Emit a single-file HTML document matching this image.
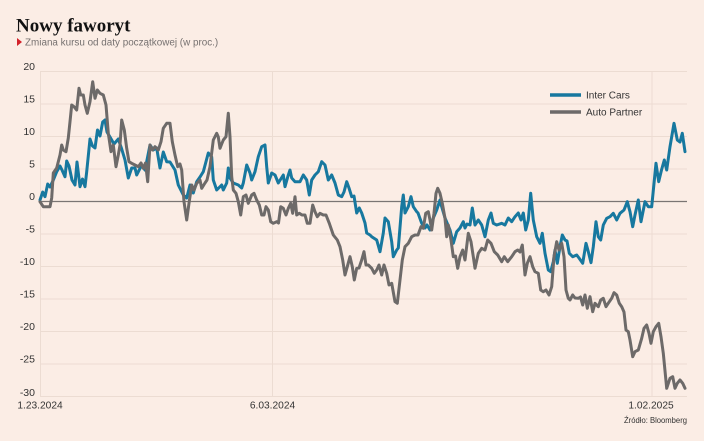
<!DOCTYPE html>
<html><head><meta charset="utf-8"><style>
html,body{margin:0;padding:0;background:#fbede5;}
svg{display:block;}
</style></head><body>
<svg width="704" height="441" viewBox="0 0 704 441" xmlns="http://www.w3.org/2000/svg">
<rect x="0" y="0" width="704" height="441" fill="#fbede5"/>
<text x="16" y="31.5" font-family="Liberation Serif, serif" font-weight="bold" font-size="19" fill="#111">Nowy faworyt</text>
<polygon points="17,38 17,46 22,42" fill="#d3222a"/>
<text x="25" y="45.5" font-family="Liberation Sans, sans-serif" font-size="9.9" fill="#767170">Zmiana kursu od daty początkowej (w proc.)</text>
<g stroke="#ecdcd2" stroke-width="1">
<line x1="40" y1="71.5" x2="687" y2="71.5"/>
<line x1="40" y1="104" x2="687" y2="104"/>
<line x1="40" y1="136.5" x2="687" y2="136.5"/>
<line x1="40" y1="169" x2="687" y2="169"/>
<line x1="40" y1="234" x2="687" y2="234"/>
<line x1="40" y1="266.5" x2="687" y2="266.5"/>
<line x1="40" y1="299" x2="687" y2="299"/>
<line x1="40" y1="331.5" x2="687" y2="331.5"/>
<line x1="40" y1="364" x2="687" y2="364"/>
<line x1="40" y1="396.5" x2="687" y2="396.5"/>
<line x1="40.5" y1="71.5" x2="40.5" y2="397"/>
<line x1="272.5" y1="71.5" x2="272.5" y2="397"/>
<line x1="652" y1="71.5" x2="652" y2="397"/>
</g>
<line x1="40" y1="201.5" x2="687" y2="201.5" stroke="#7a7573" stroke-width="1.2"/>
<g font-family="Liberation Sans, sans-serif" font-size="10.5" fill="#333" text-anchor="end">
<text x="35" y="70">20</text>
<text x="35" y="102.5">15</text>
<text x="35" y="135">10</text>
<text x="35" y="167.5">5</text>
<text x="35" y="200">0</text>
<text x="35" y="232.5">-5</text>
<text x="35" y="265">-10</text>
<text x="35" y="297.5">-15</text>
<text x="35" y="330">-20</text>
<text x="35" y="362.5">-25</text>
<text x="35" y="396">-30</text>
</g>
<g font-family="Liberation Sans, sans-serif" font-size="10.2" fill="#333" text-anchor="middle">
<text x="40" y="408.5">1.23.2024</text>
<text x="272.5" y="408.5">6.03.2024</text>
<text x="651" y="408.5">1.02.2025</text>
</g>
<text x="687" y="423" font-family="Liberation Sans, sans-serif" font-size="7.8" fill="#333" text-anchor="end" textLength="63" lengthAdjust="spacingAndGlyphs">Źródło: Bloomberg</text>
<line x1="550" y1="95" x2="581" y2="95" stroke="#17789f" stroke-width="3.5"/>
<line x1="550" y1="112" x2="581" y2="112" stroke="#6d6a69" stroke-width="3.5"/>
<g font-family="Liberation Sans, sans-serif" font-size="10" fill="#333">
<text x="586" y="98.6">Inter Cars</text>
<text x="586" y="115.6">Auto Partner</text>
</g>
<polyline fill="none" stroke="#17789f" stroke-width="3" stroke-linejoin="round" stroke-linecap="round" points="40,200 42.7,192 45,196.7 47.7,184 50,187 53.3,180 56.7,171.7 60,166 62,170 65,176.7 66.7,161 69,166 72,180 75,185 77,162 80,186.7 82.5,179 85,186.7 86.7,171.7 90,139 92.5,146 95,148 97.5,130 100,136 102.7,122 105,120 107,132 110,137 114,144 118.3,139 121.7,149 125,160 128.3,178 131.7,168 135,168 136.7,175 141.7,165 145,170 150,145 153.3,150 156.7,148 160,168 163.3,152 166.7,161.7 170,162 175,170 178.3,185 183.3,195 186.7,198 190,185 193.3,193 196.7,181.7 200,177 203.3,171.7 208.3,153 211.7,157 213.3,180 216.7,190 221.7,185 223.3,190 226.7,183 228.3,168 230,178 233.3,183 238.3,185 241.7,188 243.3,183 246.7,165 250,173 251.7,180 255,171.7 258.3,156.7 261.7,146.7 265,145 266.7,166.7 268.3,183 271.7,173 275,175 278.3,183 283.3,175 285,186.7 288,176 290,170 291.7,178 295,181.7 300,181.7 303.3,175 306.7,180 309.3,195 311.7,180 315,175 318.3,171.7 321.7,161.7 325,165 328.3,180 331.7,175 335,183 338.3,195 341.7,196.7 344,192 346.7,181.7 349,188 351.7,196.7 354,196 356.7,213 359.3,208 361.7,213 365,223 366.7,233 370,235 371.7,236.7 376.7,240 380,251.7 383.3,233 385,218 388.3,221.7 391.7,241.7 393.3,256.7 396.7,250 398.3,248 401.7,206.7 403.3,195 405,213 408.3,206.7 411,196.7 413.3,206.7 416.7,211.7 418,213 421.7,223.3 425,228 427,225 430,230 433.3,218 436.7,210 440,200 441.7,206.7 445,218 450,230 453.3,243.3 456.7,231.7 460,228 463.3,221.7 465,228 467,224 470,225 472.3,208 475,225 478.3,220 481.7,225 485,236.7 488.3,220 491,213 493.3,223.3 496.7,225 501.7,223.3 505,225 508.3,218 511.7,221.7 515,216.7 518.3,213 521,220 523.3,213 525.7,230 528.3,220 530.7,193.3 533.3,220 536.7,236.7 540,243.3 542.3,233.3 545,253.3 548.3,270 550.7,271.7 553.3,261.7 555,250 557.3,263.3 560,246.7 562.3,235 565,240 567,241 569.3,253.3 572.7,256.7 576.7,255 579,258 582.7,263.3 586,243.3 588.3,251.7 591,262.7 593.3,246.7 596,221.7 598.3,236.7 600.7,240 603.3,225 606.7,218.3 610,216.7 613.3,213.3 616.7,220 620,213.3 624,210 627.3,201.7 630,211.7 632.7,226.7 635,215 638.3,200 641,221.7 645,201.7 648.3,206.7 651.7,206.7 656,163.3 658.7,181.7 661.5,170 664.3,160 666.7,170 670,146.7 674,123.3 677.3,140 680,142 682.3,133.3 685,151.7"/>
<polyline fill="none" stroke="#6d6a69" stroke-width="3" stroke-linejoin="round" stroke-linecap="round" points="40,201.7 43.3,206.7 50,206.7 51.7,198 53.3,173 56.7,168 60,155 61.7,145 63.3,150 66,151.7 68.3,138 70,121.7 71.7,105 74,106.7 76.7,110 79,88.3 80.7,95 83.3,95 85,105 87.3,113.3 90,101.7 92.7,81.7 95,98.3 97.3,90 100,93.3 103.3,95 106,105 108.3,133.3 111,151.7 113.3,145 116,166.7 118.3,155 120,145 121.7,120 124.3,130 126.7,148.3 129,161.7 131.7,163.3 135,165 138.3,166.7 141,163 143.3,168.3 145.5,163 147.7,181.7 150,145 152.5,150 155,146.7 158.3,150 161,141.7 163.3,128.3 166.7,123.3 170,123.3 172.3,141.7 175,155 177.7,166.7 180,164 181.7,170 184,201.7 186.7,220 189,203.3 191.7,185 194,190 196.7,183.3 200,180 201.7,188.3 205,183 207,180 210,166.7 213.3,140 216.7,133.3 218.3,137 220,148.3 221.7,144 223.3,140 226,136.7 228.3,113.3 230,136.7 231.7,176.7 233.3,190 236,193.3 238.3,201.7 240.7,215 243.3,196.7 246,195 248.3,203.3 251.7,195 254,193.3 256.7,200 259.3,205 261.7,215 264,215 266,206.7 268.3,210 270.7,221.7 273.3,223.3 276.7,221.7 278.5,223 280.7,206.7 283.3,208.3 286,215 288.3,208.3 290.7,203.3 292.7,213.3 295,196.7 296.7,215 299.3,213.3 302,215 305,215 307.3,223.3 310,223.3 312.7,205 315,211.7 317.3,216.7 320,213.3 323.3,215 326,215 329.3,223.3 333.3,235 337.3,240 340,246.7 342.7,260 345,275 347.3,266.7 350,256.7 352.3,266.7 354.3,280 356.7,268.3 359,268 361.7,260 364,251.7 366,265 368.3,265 371.7,268.3 374.3,273.3 376.7,270 379,265 381.7,275 384,265 386.7,273.3 389,285 391.7,283.3 395,301.7 397.3,303.3 400,280 402.3,260 405,246.7 408.3,243.3 411.7,236.7 415,235 418,235 421,226.7 423.3,228.3 425.7,213.3 428.3,211.7 430,220 431.7,230 434,213.3 436,193.3 437.7,188.3 440,193.3 442.3,203.3 445,218.3 446.7,236.7 448.3,225 451,240 453.3,256.7 455.5,256 457.7,268.3 460,256.7 462.7,250 465,260 468.3,233.3 471,241.7 473.3,256.7 475,268.3 478.3,253.3 481.7,248.3 485,250 487.7,240 491,243.3 494.3,251.7 497.7,255 501.7,261.7 504.3,256.7 507.7,261.7 511.7,256.7 515,251.7 517.7,250 520,252 522.3,245 525,275 527.3,263.3 530,256.7 532.7,266.7 535,271.7 538.3,273.3 540.7,290 543.3,291.7 546,290 549,295 551.7,286.7 554,256.7 556.7,241.7 559,250 561.7,243.3 564,256.7 566,290 568.3,298.3 570,300 572.7,295 575,298 578.3,298.3 580.5,297 582.7,305 585,295 587.3,308.3 590,296.7 592.7,311.7 595,303.3 598.3,306.7 600.7,300 603.3,298.3 606,306.7 609.3,301.7 611.7,298.3 614,292.7 616.7,295 619.3,303.3 621.7,306.7 624,312 626,330 628.3,331.7 630,340 632.7,356.7 635,351.7 638.3,350 641.7,338.3 644,328.3 646.7,325 649,333.3 651,343.3 653.3,331.7 656,326.7 658.7,323.3 661,336.7 663.3,353.3 666.7,388.3 670,378.3 672.7,376.7 675,388.3 677.3,383.3 680,380 682.7,383.3 685,388.3"/>
</svg>
</body></html>
